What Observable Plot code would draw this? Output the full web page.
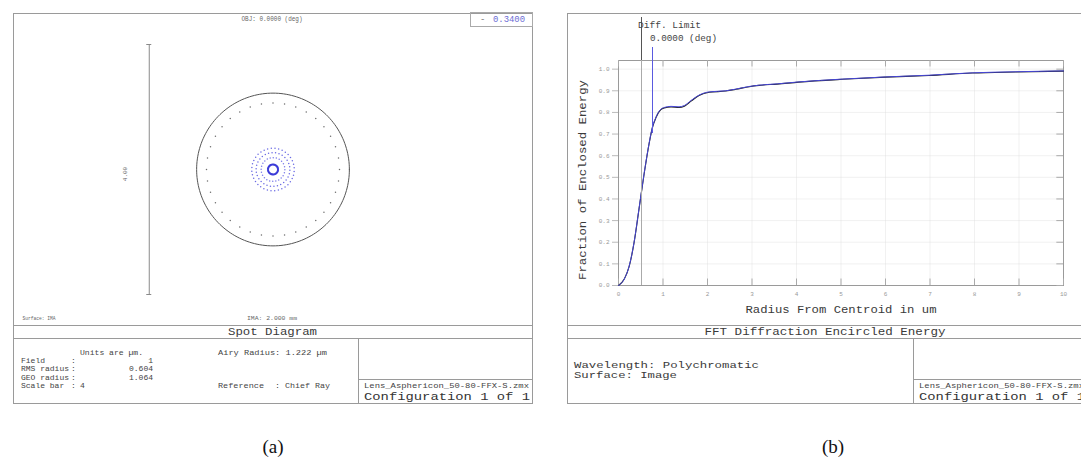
<!DOCTYPE html>
<html><head><meta charset="utf-8">
<script src="https://cdn.jsdelivr.net/npm/d3@7"></script>
<script src="https://cdn.jsdelivr.net/npm/@observablehq/plot@0.6"></script>
<style>
html,body{margin:0;padding:0;background:#fff;}
#root{position:relative;width:1081px;height:457px;overflow:hidden;background:#fff;}
#root svg{position:absolute;}
</style></head>
<body><div id="root"></div>
<script>
// ---------- (b) FFT Diffraction Encircled Energy ----------
const radiusUm   = [0, 0.13, 0.24, 0.35, 0.46, 0.58, 0.69, 0.76, 0.84, 0.95, 1.03, 1.18, 1.36, 1.48, 1.63, 1.81, 2.04, 2.41, 2.64, 2.94, 3.16, 3.57, 4.05, 5.03, 6.0, 6.98, 7.95, 8.93, 10];
const eePoly     = [0, 0.03, 0.09, 0.20, 0.354, 0.523, 0.66, 0.73, 0.777, 0.815, 0.823, 0.828, 0.826, 0.832, 0.855, 0.880, 0.895, 0.900, 0.908, 0.920, 0.926, 0.932, 0.941, 0.954, 0.964, 0.972, 0.983, 0.988, 0.992];
const eeDiff     = [0, 0.03, 0.088, 0.198, 0.352, 0.521, 0.658, 0.728, 0.775, 0.813, 0.821, 0.825, 0.823, 0.829, 0.852, 0.878, 0.893, 0.899, 0.907, 0.919, 0.925, 0.931, 0.940, 0.953, 0.963, 0.971, 0.982, 0.987, 0.991];
const xTicks     = [0, 1, 2, 3, 4, 5, 6, 7, 8, 9, 10];
const yTicks     = [0, 0.1, 0.2, 0.3, 0.4, 0.5, 0.6, 0.7, 0.8, 0.9, 1.0];

// ---------- (a) Spot Diagram ----------
const spotRingRadiusUm = [1.064, 0.34, 0.27, 0.19, 0.08];
const spotRingCount    = [36, 36, 30, 24, 28];
const spotRingColor    = ["#6e6e6e", "#6a6ae4", "#6a6ae4", "#7a7aea", "#3c3cd8"];
const airyRadiusUm = 1.222;
const scaleBarUm = 4;

const infoA = {
  field: "1", rms: "0.604", geo: "1.064", scale: "4",
  airy: "Airy Radius: 1.222 µm", reference: "Chief Ray",
  obj: "OBJ: 0.0000 (deg)", ima: "IMA: 2.000 mm", surface: "Surface: IMA",
  legendValue: "0.3400"
};

const root = document.getElementById("root");
const MONO = "'Liberation Mono', 'DejaVu Sans Mono', monospace";

// ---------- Spot diagram plot ----------
const pxPerUm = 62.5;
const spotW = 517, spotH = 311, cx = 258.5, cy = 155;
const airyPts = d3.range(0, 361, 2).map(a => ({x: airyRadiusUm * Math.cos(a * Math.PI / 180), y: airyRadiusUm * Math.sin(a * Math.PI / 180)}));
const ringMarks = spotRingRadiusUm.map((r, k) => {
  const n = spotRingCount[k];
  const pts = d3.range(n).map(i => ({x: r * Math.cos(2 * Math.PI * i / n + 0.08 * k), y: r * Math.sin(2 * Math.PI * i / n + 0.08 * k)}));
  return Plot.dot(pts, {x: "x", y: "y", r: k === 4 ? 1.1 : 0.75, fill: spotRingColor[k], stroke: null});
});
const scaleBarX = -1.98;
const spot = Plot.plot({
  width: spotW, height: spotH, margin: 0,
  style: {background: "transparent", overflow: "visible"},
  x: {domain: [-cx / pxPerUm, (spotW - cx) / pxPerUm], axis: null},
  y: {domain: [-(spotH - cy) / pxPerUm, cy / pxPerUm], axis: null},
  marks: [
    Plot.line(airyPts, {x: "x", y: "y", stroke: "#555", strokeWidth: 1}),
    ...ringMarks,
    Plot.ruleX([scaleBarX], {y1: -scaleBarUm / 2, y2: scaleBarUm / 2, stroke: "#8a8a8a", strokeWidth: 1}),
    Plot.ruleY([-scaleBarUm / 2, scaleBarUm / 2], {x1: scaleBarX - 0.04, x2: scaleBarX + 0.04, stroke: "#8a8a8a"})
  ]
});
spot.style.left = "14px"; spot.style.top = "14px";
root.appendChild(spot);

// ---------- Encircled energy plot ----------
const eeW = 519, eeH = 311;
const polyData = radiusUm.map((r, i) => ({r, v: eePoly[i]}));
const diffData = radiusUm.map((r, i) => ({r, v: eeDiff[i]}));
const ee = Plot.plot({
  width: eeW, height: eeH,
  marginLeft: 51, marginRight: 23, marginTop: 46, marginBottom: 40,
  style: {background: "transparent", overflow: "visible", fontFamily: MONO},
  x: {domain: [0, 10]},
  y: {domain: [0, 1.04]},
  marks: [
    Plot.gridY(yTicks, {stroke: "#ddd", strokeOpacity: 0.4}),
    Plot.gridX(xTicks, {stroke: "#ddd", strokeOpacity: 0.4}),
    Plot.frame({stroke: "#9a9a9a"}),
    Plot.axisX(xTicks, {tickSize: 0, tickPadding: 6, fontSize: 6, fill: "#999", label: null}),
    Plot.axisY(yTicks, {tickSize: 6, tickPadding: 3, fontSize: 6, fill: "#999", stroke: "#bbb", tickFormat: ".1f", label: null}),
    Plot.ruleX(xTicks, {x: d => d, y1: 0, y2: 0.03, stroke: "#aaa"}),
    Plot.ruleX(xTicks, {x: d => d, y1: 1.04, y2: 1.01, stroke: "#aaa"}),
    Plot.ruleY(yTicks, {y: d => d, x1: 10, x2: 9.85, stroke: "#aaa"}),
    Plot.line(diffData, {x: "r", y: "v", stroke: "#222", strokeWidth: 1.1, curve: "monotone-x"}),
    Plot.line(polyData, {x: "r", y: "v", stroke: "#4646d6", strokeWidth: 1, curve: "monotone-x"})
  ]
});
ee.style.left = "567px"; ee.style.top = "14px";
root.appendChild(ee);

// ---------- Overlay: frames and texts ----------
const svg = d3.select(root).append("svg").attr("width", 1081).attr("height", 457).style("left", 0).style("top", 0).style("pointer-events", "none");
const line = (x1, y1, x2, y2, stroke = "#9a9a9a", w = 1) => svg.append("line").attr("x1", x1).attr("y1", y1).attr("x2", x2).attr("y2", y2).attr("stroke", stroke).attr("stroke-width", w);
const rect = (x1, y1, x2, y2, stroke = "#9a9a9a") => svg.append("rect").attr("x", x1).attr("y", y1).attr("width", x2 - x1).attr("height", y2 - y1).attr("fill", "none").attr("stroke", stroke);
function txt(x, y, s, o = {}) {
  const t = svg.append("text").attr("x", x).attr("y", y).text(s)
    .attr("font-family", o.family || MONO).attr("font-size", o.size || 8)
    .attr("fill", o.fill || "#444").attr("text-anchor", o.anchor || "start")
    .style("white-space", "pre");
  if (o.len) t.attr("textLength", o.len).attr("lengthAdjust", "spacingAndGlyphs");
  if (o.rotate) t.attr("transform", `rotate(${o.rotate},${x},${y})`);
  return t;
}

// Panel (a) frames
rect(13.5, 13.5, 532.5, 403.5);
line(13.5, 325.5, 532.5, 325.5);
line(13.5, 338.5, 532.5, 338.5);
line(358.5, 338.5, 358.5, 403.5);
line(358.5, 379.5, 532.5, 379.5);
rect(470.5, 12.5, 532.5, 26.5, "#aaa");

// Panel (a) texts
txt(272, 21, infoA.obj, {size: 6.5, anchor: "middle", len: 61, fill: "#666"});
txt(480, 22, "-", {size: 9, fill: "#777"});
txt(493, 22, infoA.legendValue, {size: 9, fill: "#6c6cd4", len: 32});
txt(127, 174, "4.00", {size: 6, anchor: "middle", rotate: -90, fill: "#666"});
txt(22.5, 320, infoA.surface, {size: 6, len: 33, fill: "#666"});
txt(272, 320, infoA.ima, {size: 6, anchor: "middle", len: 50, fill: "#666"});
txt(272.5, 335, "Spot Diagram", {size: 10.5, anchor: "middle", len: 89, fill: "#3a3a3a"});
txt(80, 354.5, "Units are µm.", {size: 8, len: 63});
txt(21, 362.5, "Field", {size: 8});
txt(21, 371, "RMS radius", {size: 8});
txt(21, 379.5, "GEO radius", {size: 8});
txt(21, 388, "Scale bar", {size: 8});
[362.5, 371, 379.5, 388].forEach(y => txt(71, y, ":", {size: 8}));
txt(153, 362.5, infoA.field, {size: 8, anchor: "end"});
txt(153, 371, infoA.rms, {size: 8, anchor: "end"});
txt(153, 379.5, infoA.geo, {size: 8, anchor: "end"});
txt(80, 388, infoA.scale, {size: 8});
txt(218, 354.5, infoA.airy, {size: 8, len: 109});
txt(218, 388, "Reference", {size: 8, len: 46});
txt(275, 388, ": " + infoA.reference, {size: 8, len: 55});
txt(364, 388, "Lens_Asphericon_50-80-FFX-S.zmx", {size: 7.6, len: 165});
txt(364, 399.5, "Configuration 1 of 1", {size: 11, len: 166, fill: "#333"});
txt(273, 452.5, "(a)", {size: 19, anchor: "middle", family: "'Liberation Serif', 'Times New Roman', serif", fill: "#111"});

// Panel (b) frames
rect(567.5, 13.5, 1086.5, 403.5);
line(567.5, 325.5, 1086.5, 325.5);
line(567.5, 338.5, 1086.5, 338.5);
line(913.5, 338.5, 913.5, 403.5);
line(913.5, 379.5, 1086.5, 379.5);
// legend lines
line(641.5, 17, 641.5, 60, "#555");
line(641.5, 60, 641.5, 285, "#aaa");
line(652.5, 47, 652.5, 133, "#5a5ae0");

// Panel (b) texts
txt(638, 28, "Diff. Limit", {size: 9, len: 63, fill: "#444"});
txt(650, 41, "0.0000 (deg)", {size: 9, len: 67, fill: "#444"});
txt(586, 180, "Fraction of Enclosed Energy", {size: 10.5, anchor: "middle", rotate: -90, len: 200, fill: "#3a3a3a"});
txt(841, 312.5, "Radius From Centroid in um", {size: 10.5, anchor: "middle", len: 191, fill: "#3a3a3a"});
txt(825, 335, "FFT Diffraction Encircled Energy", {size: 10.5, anchor: "middle", len: 241, fill: "#3a3a3a"});
txt(574, 368, "Wavelength: Polychromatic", {size: 8.4, len: 185, fill: "#3a3a3a"});
txt(574, 377.5, "Surface: Image", {size: 8.4, len: 103, fill: "#3a3a3a"});
txt(919, 388, "Lens_Asphericon_50-80-FFX-S.zmx", {size: 7.6, len: 165});
txt(919, 399.5, "Configuration 1 of 1", {size: 11, len: 166, fill: "#333"});
txt(833, 452.5, "(b)", {size: 19, anchor: "middle", family: "'Liberation Serif', 'Times New Roman', serif", fill: "#111"});
</script>
</body></html>
